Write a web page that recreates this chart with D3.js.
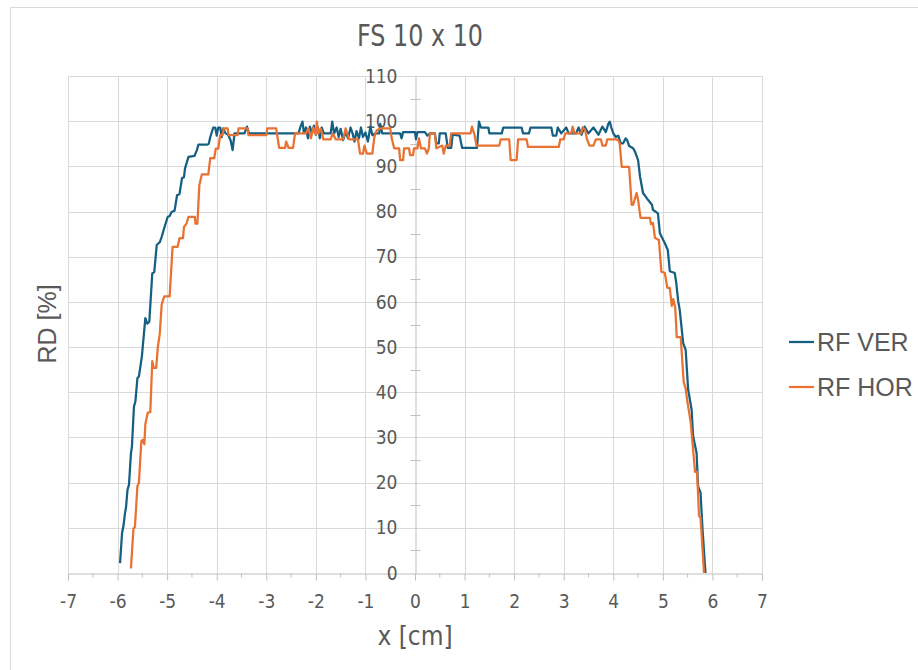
<!DOCTYPE html>
<html>
<head>
<meta charset="utf-8">
<script src="https://cdn.jsdelivr.net/npm/d3@7"></script>
<style>
  body { margin: 0; background: #fff; }
</style>
</head>
<body>
<div id="chart"></div>
<script>
// axis ticks
const xTicks = d3.range(-7, 8, 1);
const xMinorTicks = d3.range(-6.5, 7, 1);
const yTicks = d3.range(0, 111, 10);
const yMinorTicks = d3.range(5, 110, 10);

const seriesNames = ["RF VER", "RF HOR"];
const seriesColors = ["#156082", "#E97132"];

// [x cm, RD %]
const rfVer = [
  [-5.95,2.2],[-5.91,8.8],[-5.88,10.5],[-5.85,13.3],[-5.83,14.5],[-5.80,18.4],[-5.77,19.5],[-5.73,26.5],
  [-5.71,28],[-5.67,36.8],[-5.64,38],[-5.60,43.1],[-5.57,43.5],[-5.51,47.9],[-5.44,56.4],[-5.40,55.2],
  [-5.36,55.6],[-5.30,66.3],[-5.26,66.6],[-5.21,72.6],[-5.15,73.2],[-5.11,74.4],[-5.06,76.3],[-4.99,78.8],
  [-4.95,79.0],[-4.91,79.9],[-4.85,80.2],[-4.80,83.6],[-4.75,83.9],[-4.70,87.4],[-4.66,87.6],[-4.64,89.5],
  [-4.57,92.1],[-4.45,92.3],[-4.40,93.6],[-4.37,94.8],[-4.20,94.8],[-4.16,95.0],[-4.13,96.5],[-4.07,98.6],
  [-4.03,98.6],[-4.00,96.8],[-3.97,98.6],[-3.93,98.6],[-3.90,96.5],[-3.87,98.4],[-3.82,97.3],[-3.77,97.0],
  [-3.72,95.8],[-3.68,93.6],[-3.64,97.3],[-3.44,97.3],[-3.39,98.8],[-3.35,97.3],[-2.35,97.3],[-2.31,98.8],
  [-2.27,99.9],[-2.24,97.3],[-2.20,98.6],[-2.16,96.2],[-2.12,98.8],[-2.08,97.3],[-2.04,99.0],[-2.00,97.0],
  [-1.96,98.6],[-1.92,96.2],[-1.88,98.6],[-1.84,97.3],[-1.70,97.3],[-1.67,99.9],[-1.63,97.3],[-1.58,98.6],
  [-1.54,96.5],[-1.50,98.3],[-1.45,95.8],[-1.40,97.6],[-1.35,96.2],[-1.30,98.6],[-1.26,97.3],[-1.22,95.5],
  [-1.18,97.8],[-1.13,96.2],[-1.09,98.6],[-1.05,96.5],[-1.00,97.5],[-0.95,95.5],[-0.90,98.8],[-0.86,96.9],
  [-0.80,97.3],[-0.72,97.3],[-0.70,99.4],[-0.66,97.3],[-0.30,97.3],[-0.27,96.2],[-0.24,97.6],[0.00,97.6],
  [0.02,96.0],[0.05,97.6],[0.20,97.6],[0.25,96.8],[0.30,97.3],[0.40,97.3],[0.43,95.1],[0.48,95.1],
  [0.50,97.3],[0.62,97.3],[0.66,94.1],[0.73,94.1],[0.76,97.0],[0.90,96.8],[0.95,94.1],[1.25,94.1],
  [1.29,99.9],[1.33,98.6],[1.48,98.6],[1.50,97.3],[1.75,97.3],[1.78,98.6],[2.15,98.6],[2.18,97.3],
  [2.30,97.3],[2.33,98.6],[2.75,98.6],[2.78,96.8],[2.85,96.8],[2.88,98.6],[2.95,97.3],[3.05,98.6],
  [3.10,97.3],[3.25,97.3],[3.30,98.6],[3.36,97.0],[3.42,98.8],[3.50,97.3],[3.60,98.6],[3.70,97.0],
  [3.78,98.8],[3.85,97.6],[3.90,99.4],[3.93,99.9],[3.96,98.6],[4.00,97.3],[4.05,96.5],[4.10,96.8],
  [4.15,95.1],[4.20,95.1],[4.25,96.2],[4.28,95.8],[4.32,94.5],[4.40,94.0],[4.44,93.2],[4.50,91.4],
  [4.54,87.7],[4.60,84.1],[4.70,82.6],[4.78,81.5],[4.80,80.4],[4.90,79.6],[4.94,75.2],[5.04,73.0],
  [5.10,71.5],[5.14,66.8],[5.24,66.4],[5.27,64.2],[5.31,60.1],[5.34,58.3],[5.41,50.9],[5.46,49.4],
  [5.51,40.6],[5.58,36.2],[5.61,30.3],[5.68,26.6],[5.71,19.2],[5.76,17.8],[5.80,9.7],[5.86,0]
];

const rfHor = [
  [-5.73,1.0],[-5.68,9.8],[-5.65,10.2],[-5.60,19.2],[-5.57,20.0],[-5.52,29.2],[-5.49,29.5],[-5.46,28.5],
  [-5.44,32.9],[-5.39,35.5],[-5.34,35.6],[-5.30,46.9],[-5.27,45.4],[-5.22,45.4],[-5.19,49.8],[-5.15,52.8],
  [-5.11,59.4],[-5.06,61.2],[-4.95,61.2],[-4.89,72.2],[-4.79,72.2],[-4.75,74.1],[-4.68,74.1],[-4.66,76.6],
  [-4.61,77.3],[-4.57,78.8],[-4.44,78.8],[-4.43,77.3],[-4.39,77.3],[-4.35,85.9],[-4.30,88.2],[-4.17,88.2],
  [-4.13,91.8],[-4.05,91.8],[-4.02,93.9],[-3.97,93.9],[-3.93,96.9],[-3.88,96.9],[-3.86,98.4],[-3.78,98.4],
  [-3.76,96.9],[-3.58,96.9],[-3.56,98.4],[-3.38,98.4],[-3.36,96.9],[-3.00,96.9],[-2.98,98.4],[-2.80,98.4],
  [-2.78,96.9],[-2.74,94.1],[-2.62,94.1],[-2.60,95.5],[-2.55,94.1],[-2.46,94.1],[-2.42,97.3],[-2.20,97.3],
  [-2.15,98.4],[-2.10,96.2],[-2.05,98.6],[-2.00,97.0],[-1.98,99.9],[-1.95,97.3],[-1.90,98.4],[-1.85,96.0],
  [-1.70,96.0],[-1.66,97.3],[-1.60,96.0],[-1.45,96.0],[-1.40,98.4],[-1.33,96.0],[-1.15,96.0],[-1.11,92.8],
  [-1.05,92.8],[-1.02,94.6],[-0.97,92.8],[-0.86,92.8],[-0.82,96.5],[-0.77,98.0],[-0.70,98.4],[-0.50,98.4],
  [-0.47,96.2],[-0.42,94.0],[-0.32,94.0],[-0.30,91.4],[-0.24,91.4],[-0.22,94.0],[-0.12,94.0],[-0.10,92.5],
  [-0.04,92.5],[-0.02,94.0],[0.05,94.0],[0.08,96.2],[0.12,94.0],[0.20,94.0],[0.24,92.8],[0.28,94.0],
  [0.30,97.3],[0.40,97.3],[0.43,94.0],[0.55,94.6],[0.58,92.8],[0.62,94.6],[0.70,94.6],[0.73,97.3],
  [1.12,97.3],[1.15,98.8],[1.20,97.0],[1.24,94.6],[1.70,94.6],[1.73,96.0],[1.90,96.0],[1.93,91.4],
  [2.05,91.4],[2.08,96.0],[2.25,96.0],[2.28,94.3],[2.90,94.3],[2.93,96.0],[3.00,96.0],[3.03,97.3],
  [3.15,97.3],[3.18,98.8],[3.22,97.3],[3.35,97.3],[3.38,98.6],[3.43,98.1],[3.47,96.0],[3.52,94.6],
  [3.60,94.6],[3.65,96.0],[3.75,96.0],[3.78,94.6],[3.85,94.6],[3.88,96.0],[4.05,96.0],[4.10,95.8],
  [4.13,95.1],[4.17,89.9],[4.32,89.9],[4.37,81.5],[4.40,81.5],[4.47,84.1],[4.50,82.6],[4.55,78.6],
  [4.74,78.6],[4.76,77.2],[4.80,77.5],[4.84,74.2],[4.92,73.7],[4.97,66.7],[5.04,66.4],[5.09,63.1],
  [5.14,63.1],[5.18,59.1],[5.21,60.6],[5.25,58.8],[5.28,52.2],[5.36,52.2],[5.42,42.3],[5.46,40.8],
  [5.49,38.3],[5.56,33.5],[5.65,22.4],[5.69,22.4],[5.73,12.6],[5.76,12.3],[5.83,0]
];

var narrowFont = "'Liberation Sans Narrow', 'DejaVu Sans Condensed', 'Arial Narrow', sans-serif";
var plainFont = "'Liberation Sans', Arial, sans-serif";
var textColor = "#595959";

function drawProfile(id, w, h) {
  var plot = { left: 68, right: 762, top: 76, bottom: 573 };
  var svg = d3.select("#" + id).append("svg")
    .attr("width", w).attr("height", h);

  // chart border (runs off the picture to the right and bottom)
  svg.append("rect")
    .attr("x", 10.5).attr("y", 7.5)
    .attr("width", w + 20).attr("height", h + 20)
    .attr("fill", "none").attr("stroke", "#d9d9d9");

  var x = d3.scaleLinear().domain([-7, 7]).range([plot.left, plot.right]);
  var y = d3.scaleLinear().domain([0, 110]).range([plot.bottom, plot.top]);

  // gridlines
  svg.append("g").selectAll("line")
    .data(xTicks.filter(d => d !== 0))
    .enter().append("line")
    .attr("x1", d => Math.round(x(d)) + 0.5).attr("x2", d => Math.round(x(d)) + 0.5)
    .attr("y1", plot.top).attr("y2", plot.bottom)
    .attr("stroke", "#d9d9d9");
  svg.append("g").selectAll("line")
    .data(yTicks.filter(d => d !== 0))
    .enter().append("line")
    .attr("x1", plot.left).attr("x2", plot.right)
    .attr("y1", d => Math.round(y(d)) + 0.5).attr("y2", d => Math.round(y(d)) + 0.5)
    .attr("stroke", "#d9d9d9");

  // x axis at y = 0
  var xAxis = d3.axisBottom(x).tickValues(xTicks).tickSize(7).tickPadding(14)
    .tickFormat(d => d < 0 ? "-" + Math.abs(d) : d);
  var gx = svg.append("g").attr("transform", "translate(0," + (Math.round(y(0)) + 0.5) + ")").call(xAxis);
  gx.append("g").selectAll("line")
    .data(xMinorTicks).enter().append("line")
    .attr("x1", d => x(d)).attr("x2", d => x(d))
    .attr("y1", 0).attr("y2", 4)
    .attr("stroke", "#bfbfbf");

  // y axis at x = 0
  var yAxis = d3.axisLeft(y).tickValues(yTicks).tickSize(0).tickPadding(18);
  var gy = svg.append("g").attr("transform", "translate(" + (Math.round(x(0)) + 0.5) + ",0)").call(yAxis);
  gy.append("g").selectAll("line")
    .data(yMinorTicks).enter().append("line")
    .attr("x1", -5).attr("x2", 5)
    .attr("y1", d => Math.round(y(d)) + 0.5).attr("y2", d => Math.round(y(d)) + 0.5)
    .attr("stroke", "#bfbfbf");

  [gx, gy].forEach(g => {
    g.select(".domain").attr("stroke", "#bfbfbf");
    g.selectAll(".tick line").attr("stroke", "#bfbfbf");
    g.selectAll(".tick text")
      .attr("fill", textColor)
      .attr("font-size", 19)
      .attr("font-family", narrowFont);
  });

  // series
  var line = d3.line().x(d => x(d[0])).y(d => y(d[1]));
  [rfVer, rfHor].forEach((s, i) => {
    svg.append("path")
      .datum(s)
      .attr("d", line)
      .attr("fill", "none")
      .attr("stroke", seriesColors[i])
      .attr("stroke-width", 2.25)
      .attr("stroke-linejoin", "round");
  });

  // titles
  svg.append("text")
    .text("FS 10 x 10")
    .attr("x", 420).attr("y", 46)
    .attr("text-anchor", "middle")
    .attr("textLength", 126)
    .attr("lengthAdjust", "spacingAndGlyphs")
    .attr("fill", textColor)
    .attr("font-size", 30)
    .attr("font-family", narrowFont);

  svg.append("text")
    .text("x [cm]")
    .attr("x", 415).attr("y", 645)
    .attr("text-anchor", "middle")
    .attr("fill", textColor)
    .attr("font-size", 26)
    .attr("font-family", narrowFont);

  svg.append("text")
    .text("RD [%]")
    .attr("transform", "translate(56,324) rotate(-90)")
    .attr("text-anchor", "middle")
    .attr("fill", textColor)
    .attr("font-size", 25)
    .attr("font-family", plainFont);

  // legend
  var legend = svg.append("g").selectAll("g")
    .data(seriesNames).enter().append("g")
    .attr("transform", (d, i) => "translate(789," + (342 + i * 45) + ")");
  legend.append("line")
    .attr("x1", 0).attr("x2", 25)
    .attr("stroke", (d, i) => seriesColors[i])
    .attr("stroke-width", 2.25);
  legend.append("text")
    .text(d => d)
    .attr("x", 28).attr("y", 9)
    .attr("fill", textColor)
    .attr("font-size", 25)
    .attr("font-family", plainFont);

  return svg;
}

drawProfile("chart", 918, 670);
</script>
</body>
</html>
